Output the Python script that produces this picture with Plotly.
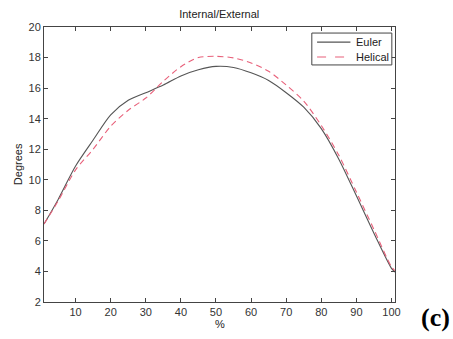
import plotly.graph_objects as go

x_pct = [1, 5, 10, 15, 20, 25, 30, 35, 40, 45, 50, 55, 60, 65, 70, 75, 80, 85, 90, 95, 100, 101]
euler = [7.1, 8.7, 10.9, 12.6, 14.25, 15.2, 15.7, 16.2, 16.8, 17.2, 17.42, 17.35, 17.0, 16.5,
         15.7, 14.75, 13.35, 11.35, 8.95, 6.5, 4.2, 3.95]
helical = [7.1, 8.6, 10.65, 12.0, 13.5, 14.55, 15.35, 16.45, 17.4, 18.0, 18.08, 17.98, 17.65, 17.1,
           16.2, 15.15, 13.55, 11.6, 9.2, 6.75, 4.3, 4.05]
x_ticks = [10, 20, 30, 40, 50, 60, 70, 80, 90, 100]
y_ticks = [2, 4, 6, 8, 10, 12, 14, 16, 18, 20]
series_names = ["Euler", "Helical"]

font = "Liberation Sans, Arial, sans-serif"
axcol = "#444444"
colors = ["#555555", "#e8607a"]
dashes = ["solid", "6px,4px"]

fig = go.Figure()
for name, vals, c, d in zip(series_names, [euler, helical], colors, dashes):
    fig.add_trace(go.Scatter(x=x_pct, y=vals, mode="lines", name=name, showlegend=False,
                             line=dict(color=c, width=1.1, dash=d, shape="spline", smoothing=0.8)))

axis_common = dict(showline=True, linecolor=axcol, linewidth=1, mirror="ticks", ticks="inside",
                   ticklen=4, tickcolor=axcol, showgrid=False, zeroline=False,
                   tickfont=dict(family=font, size=11, color="#333333"))

fig.update_layout(
    width=453, height=339,
    margin=dict(l=44, r=58, t=27, b=37),
    paper_bgcolor="white", plot_bgcolor="white",
    title=dict(text="Internal/External", x=0.484, xanchor="center", y=0.957, yanchor="middle",
               font=dict(family=font, size=11, color="#222222")),
    xaxis=dict(range=[1, 101], tickvals=x_ticks, **axis_common),
    yaxis=dict(range=[2, 20], tickvals=y_ticks, **axis_common),
    showlegend=False,
)

# manual MATLAB-style legend box
fig.add_shape(type="rect", xref="paper", yref="paper", x0=0.763, x1=0.991, y0=0.862, y1=0.978,
              line=dict(color=axcol, width=1), fillcolor="white", layer="above")
for i, (name, c, d) in enumerate(zip(series_names, colors, dashes)):
    yy = 0.945 - i * 0.054
    fig.add_shape(type="line", xref="paper", yref="paper", x0=0.778, x1=0.873, y0=yy, y1=yy,
                  line=dict(color=c, width=1.1, dash="dash" if d != "solid" else "solid"), layer="above")
    fig.add_annotation(text=name, xref="paper", yref="paper", x=0.884, y=yy, showarrow=False,
                       xanchor="left", yanchor="middle",
                       font=dict(family=font, size=11, color="#222222"))

fig.add_annotation(text="Degrees", xref="paper", yref="paper", x=-0.075, y=0.5, textangle=-90,
                   showarrow=False, xanchor="center", yanchor="middle",
                   font=dict(family=font, size=11, color="#222222"))
fig.add_annotation(text="%", xref="paper", yref="paper", x=0.5, y=-0.08, showarrow=False,
                   xanchor="center", yanchor="middle", font=dict(family=font, size=11, color="#222222"))
fig.add_annotation(text="<b>(c)</b>", xref="paper", yref="paper", x=1.163, y=-0.055, showarrow=False,
                   xanchor="right", yanchor="middle",
                   font=dict(family="Liberation Serif, Times New Roman, serif", size=26, color="black"))

fig.write_html("out.html")
